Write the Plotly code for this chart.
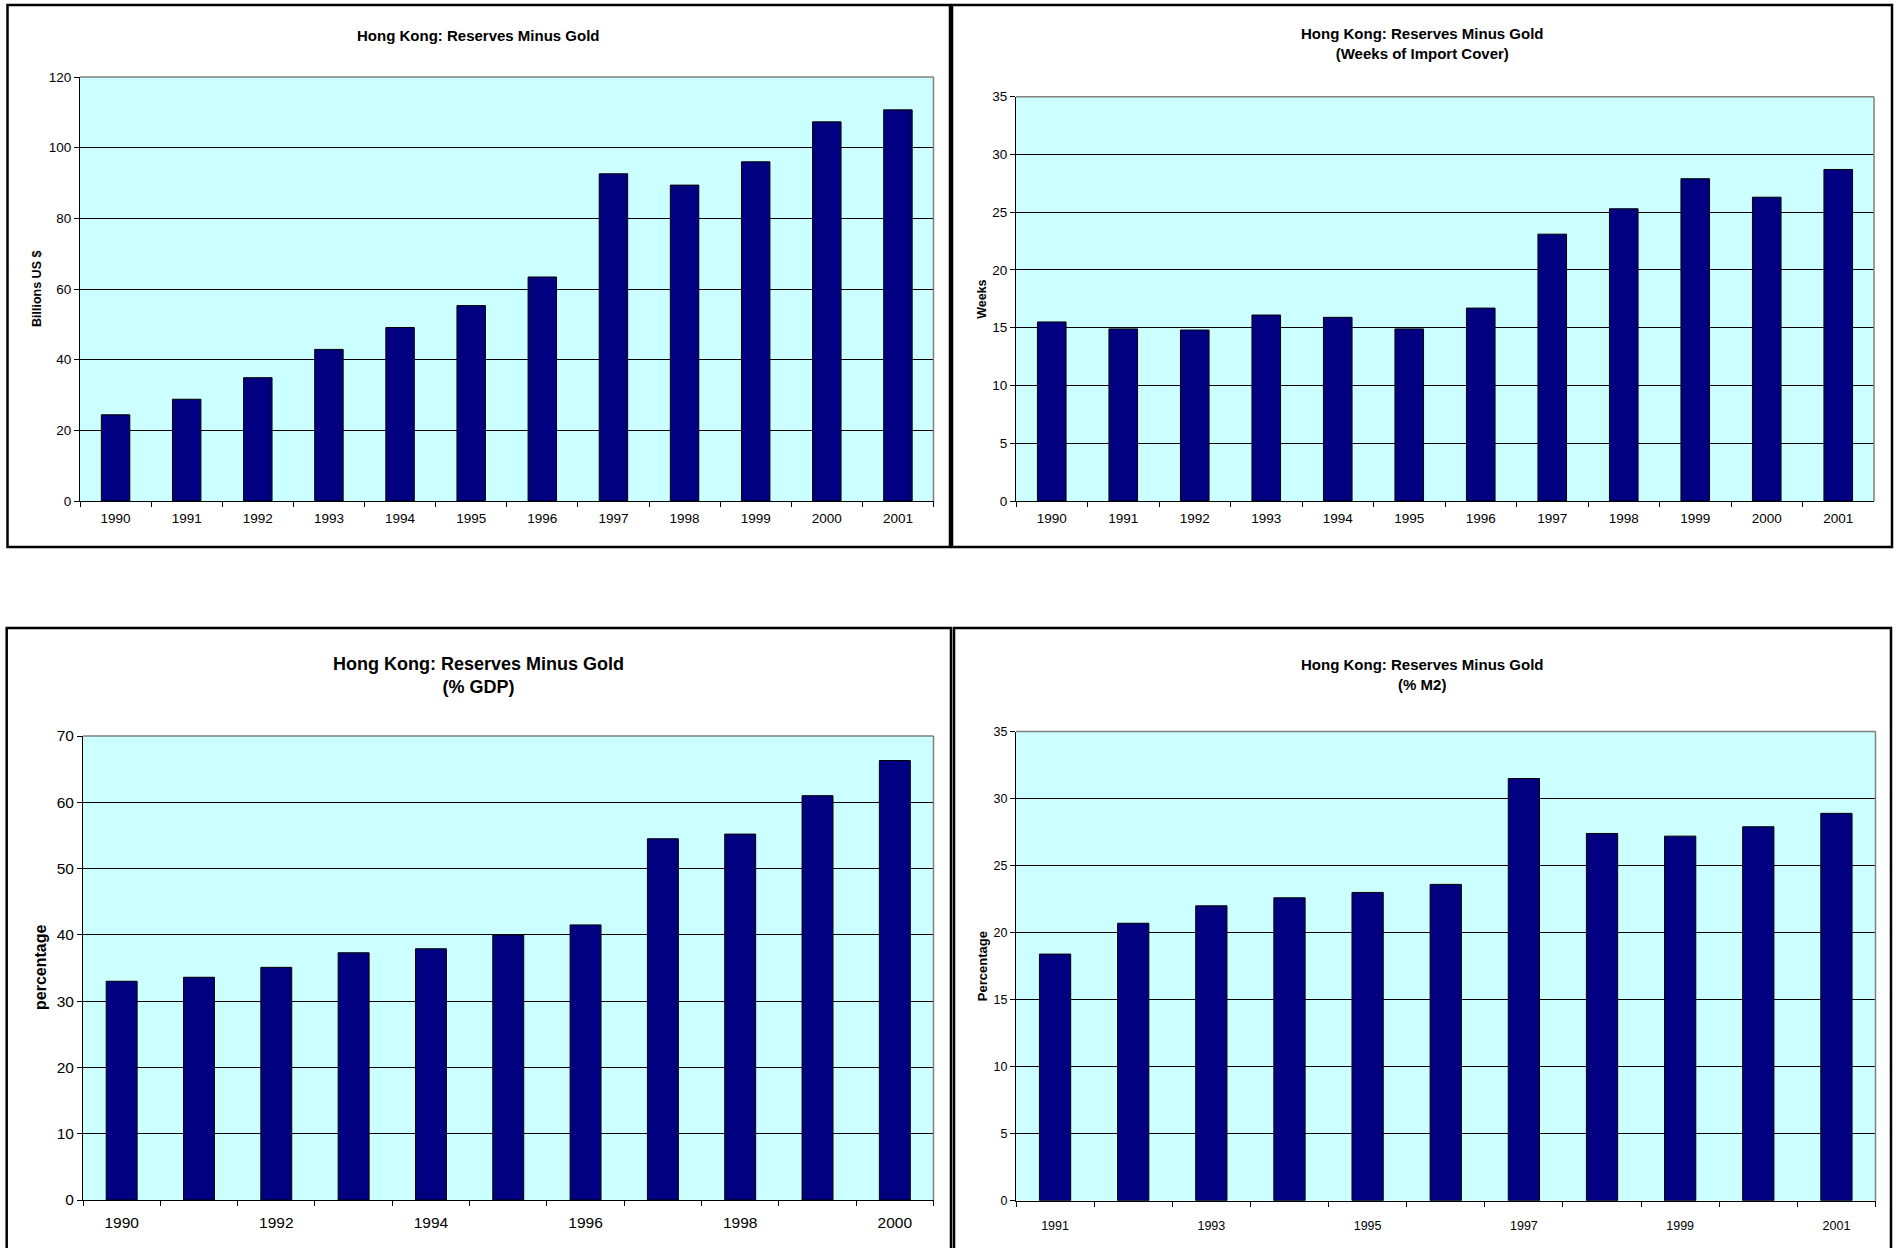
import plotly.graph_objects as go

# ---------------- data ----------------
years_1990_2001 = ["1990", "1991", "1992", "1993", "1994", "1995", "1996", "1997", "1998", "1999", "2000", "2001"]
reserves_bn_usd = [24.4, 28.8, 34.9, 42.9, 49.1, 55.3, 63.4, 92.6, 89.4, 96.0, 107.3, 110.7]
import_cover_weeks = [15.5, 14.9, 14.8, 16.1, 15.9, 14.9, 16.7, 23.1, 25.3, 27.9, 26.3, 28.7]

years_1990_2000 = ["1990", "1991", "1992", "1993", "1994", "1995", "1996", "1997", "1998", "1999", "2000"]
reserves_pct_gdp = [33.0, 33.6, 35.1, 37.3, 37.9, 40.0, 41.5, 54.5, 55.2, 61.0, 66.3]

years_1991_2001 = ["1991", "1992", "1993", "1994", "1995", "1996", "1997", "1998", "1999", "2000", "2001"]
reserves_pct_m2 = [18.4, 20.7, 22.0, 22.6, 23.0, 23.6, 31.5, 27.4, 27.2, 27.9, 28.9]

title_main = "Hong Kong: Reserves Minus Gold"
titles = [title_main,
          title_main + "<br>(Weeks of Import Cover)",
          title_main + "<br>(% GDP)",
          title_main + "<br>(% M2)"]
y_titles = ["Billions US $", "Weeks", "percentage", "Percentage"]

# ---------------- layout helpers ----------------
W, H = 1896, 1248
FONT = "Arial, Liberation Sans, sans-serif"
BAR = "#000080"
BG = "#CCFFFF"


def fx(x):
    return x / W


def fy(y):
    return 1 - y / H


panels = [
    dict(cats=years_1990_2001, vals=reserves_bn_usd, labels=years_1990_2001,
         plot=(80, 933.5, 77, 501), yrange=[0, 120], dtick=20, tfont=13.5, xstand=5,
         panel=(7.5, 950, 5, 547), title_y=35, tsize=15, ytx=37, ytsize=12.5),
    dict(cats=years_1990_2001, vals=import_cover_weeks, labels=years_1990_2001,
         plot=(1016, 1874, 96.7, 501), yrange=[0, 35], dtick=5, tfont=13.5, xstand=5,
         panel=(952, 1892, 5, 547), title_y=44, tsize=15, ytx=982, ytsize=12.5),
    dict(cats=years_1990_2000, vals=reserves_pct_gdp,
         labels=[c if i % 2 == 0 else "" for i, c in enumerate(years_1990_2000)],
         plot=(83, 933.5, 736, 1200), yrange=[0, 70], dtick=10, tfont=15.5, xstand=8,
         panel=(6.7, 951, 628, 1262), title_y=675, tsize=18, ytx=40, ytsize=16),
    dict(cats=years_1991_2001, vals=reserves_pct_m2,
         labels=[c if i % 2 == 0 else "" for i, c in enumerate(years_1991_2001)],
         plot=(1016, 1875.5, 731.6, 1200.7), yrange=[0, 35], dtick=5, tfont=12.5, xstand=13,
         panel=(954, 1891, 628, 1262), title_y=674, tsize=15, ytx=982, ytsize=13),
]

fig = go.Figure()
layout = dict(width=W, height=H, margin=dict(l=0, r=0, t=0, b=0),
              paper_bgcolor="white", plot_bgcolor=BG, showlegend=False,
              template="none", font=dict(family=FONT, color="black"),
              bargap=0.6)
shapes = []
annotations = []

for i, p in enumerate(panels):
    n = "" if i == 0 else str(i + 1)
    xref, yref = "x" + n, "y" + n
    l, r, t, b = p["plot"]
    fig.add_trace(go.Bar(x=p["cats"], y=p["vals"], xaxis=xref, yaxis=yref,
                         marker=dict(color=BAR, line=dict(color="black", width=1)),
                         width=0.4, hoverinfo="x+y"))
    layout["xaxis" + n] = dict(
        type="category", domain=[fx(l), fx(r)], anchor=yref,
        showline=True, linecolor="black", linewidth=1,
        ticks="outside", ticklen=5, tickcolor="black", tickwidth=1,
        tickson="boundaries", showgrid=False, zeroline=False,
        tickmode="array", tickvals=p["cats"], ticktext=p["labels"],
        ticklabelstandoff=p["xstand"],
        tickfont=dict(family=FONT, size=p["tfont"], color="black"),
        range=[-0.5, len(p["cats"]) - 0.5], fixedrange=True, automargin=False)
    layout["yaxis" + n] = dict(
        domain=[fy(b), fy(t)], anchor=xref, range=p["yrange"], dtick=p["dtick"],
        tick0=0, showline=True, linecolor="black", linewidth=1,
        ticks="outside", ticklen=5, tickcolor="black", tickwidth=1,
        showgrid=True, gridcolor="black", gridwidth=1, zeroline=False,
        tickfont=dict(family=FONT, size=p["tfont"], color="black"),
        fixedrange=True, automargin=False)
    # gray top and right plot-area border
    shapes.append(dict(type="line", xref="paper", yref="paper",
                       x0=fx(l), x1=fx(r), y0=fy(t), y1=fy(t),
                       line=dict(color="#808080", width=1.5)))
    shapes.append(dict(type="line", xref="paper", yref="paper",
                       x0=fx(r), x1=fx(r), y0=fy(t), y1=fy(b),
                       line=dict(color="#808080", width=1.5)))
    # panel (chart area) border
    pl, pr, pt, pb = p["panel"]
    shapes.append(dict(type="rect", xref="paper", yref="paper",
                       x0=fx(pl), x1=fx(pr), y0=fy(pb), y1=fy(pt),
                       line=dict(color="black", width=2.5)))
    # title
    annotations.append(dict(text="<b>" + titles[i].replace("<br>", "</b><br><b>") + "</b>",
                            xref="paper", yref="paper",
                            x=fx((pl + pr) / 2), y=fy(p["title_y"]),
                            xanchor="center", yanchor="middle", showarrow=False,
                            font=dict(family=FONT, size=p["tsize"], color="black")))
    # y-axis title
    annotations.append(dict(text="<b>" + y_titles[i] + "</b>", textangle=-90,
                            xref="paper", yref="paper",
                            x=fx(p["ytx"]), y=fy((t + b) / 2),
                            xanchor="center", yanchor="middle", showarrow=False,
                            font=dict(family=FONT, size=p["ytsize"], color="black")))

layout["shapes"] = shapes
layout["annotations"] = annotations
fig.update_layout(**layout)

fig.write_html("out.html", config={"displayModeBar": False},
               post_script="document.body.style.margin='0';document.body.style.overflow='hidden';")
